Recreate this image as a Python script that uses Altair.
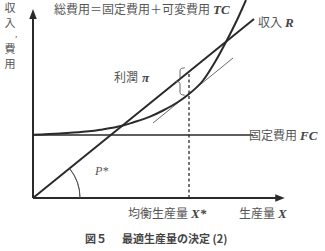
import altair as alt
import pandas as pd

# ---- data (diagram units: x = production, y = revenue / cost) ----
rev_x = [0, 221]
rev_y = [0, 179]
fc_x = [0, 220]
fc_y = [63, 63]
tc_x = [0, 27, 50, 70, 89, 100, 117, 130, 145, 156, 170, 182, 194, 204, 213]
tc_y = [63.3, 64.5, 66.2, 68.6, 72.2, 75.5, 81.3, 87.5, 96, 104, 117.5, 136, 158, 178, 198]
tan_x = [120, 200]
tan_y = [75, 140]
x_star = 156
x_star_rev = 126
brace_x = 147
brace_y = 116.5

ja_labels = ["総費用＝固定費用＋可変費用", "収入", "固定費用", "利潤", "均衡生産量", "生産量"]
ja_x = [177, 249, 264, 105, 155, 242]
ja_y = [188, 175, 62, 120, -16, -16]

sym_labels = ["TC", "R", "FC", "π", "X*", "X"]
sym_x = [180, 252, 267, 109, 158, 245]
sym_y = [188, 175, 62, 120, -16, -16]

ylab_chars = ["収", "入", "費", "用"]
ylab_y = [189, 174, 148, 133]

cap_text = ["図５", "最適生産量の決定 (2)"]
cap_x = [52, 89]

XS = alt.Scale(domain=[-33, 292], nice=False, zero=False)
YS = alt.Scale(domain=[-53, 198], nice=False, zero=False)
ink = "#2a2a2a"


def enc(ch):
    return ch.encode(x=alt.X("x:Q", scale=XS, axis=None), y=alt.Y("y:Q", scale=YS, axis=None))


def seg(x0, y0, x1, y1, **kw):
    df = pd.DataFrame({"x": [x0], "y": [y0], "x2": [x1], "y2": [y1]})
    return alt.Chart(df).mark_rule(**kw).encode(
        x=alt.X("x:Q", scale=XS, axis=None), y=alt.Y("y:Q", scale=YS, axis=None),
        x2="x2:Q", y2="y2:Q")


layers = []
# axes
layers.append(seg(0, 0, 0, 181, color=ink, strokeWidth=2))
layers.append(seg(0, 0, 245, 0, color=ink, strokeWidth=2))
up = pd.DataFrame({"x": [0], "y": [184]})
layers.append(enc(alt.Chart(up).mark_point(shape="M 0 -1 L 0.75 1 L -0.75 1 Z", size=100,
                                           filled=True, color=ink, opacity=1)))
rt = pd.DataFrame({"x": [247], "y": [0]})
layers.append(enc(alt.Chart(rt).mark_point(shape="M 1 0 L -1 -0.8 L -1 0.8 Z", size=90,
                                           filled=True, color=ink, opacity=1)))
# fixed cost
layers.append(seg(fc_x[0], fc_y[0], fc_x[1], fc_y[1], color=ink, strokeWidth=1.6))
# revenue
layers.append(seg(rev_x[0], rev_y[0], rev_x[1], rev_y[1], color=ink, strokeWidth=2))
# tangent
layers.append(seg(tan_x[0], tan_y[0], tan_x[1], tan_y[1], color="#444", strokeWidth=0.8))
# dashed x*
layers.append(seg(x_star, 0, x_star, x_star_rev, color=ink, strokeWidth=1.3, strokeDash=[3, 2.5]))
# total cost curve
tc = pd.DataFrame({"x": tc_x, "y": tc_y})
layers.append(enc(alt.Chart(tc).mark_line(color=ink, strokeWidth=2, interpolate="monotone", clip=True)))
# angle arc
org = pd.DataFrame({"x": [0], "y": [0]})
layers.append(enc(alt.Chart(org).mark_arc(radius=47, radius2=47, theta=0.89, theta2=1.5708,
                                          filled=False, stroke="#444", strokeWidth=0.8)))
# brace
br = pd.DataFrame({"x": [brace_x], "y": [brace_y]})
layers.append(enc(alt.Chart(br).mark_point(
    shape="M 0.35 -1 Q 0 -1 0 -0.8 L 0 -0.15 Q 0 0 -0.3 0 Q 0 0 0 0.15 L 0 0.8 Q 0 1 0.35 1",
    size=740, filled=False, color="#555", strokeWidth=0.9, opacity=1)))
# japanese labels
ja = pd.DataFrame({"x": ja_x, "y": ja_y, "t": ja_labels})
layers.append(enc(alt.Chart(ja).mark_text(align="right", baseline="middle", font="Noto Sans CJK JP",
                                          fontSize=12, color="#555")).encode(text="t:N"))
sy = pd.DataFrame({"x": sym_x, "y": sym_y, "t": sym_labels})
layers.append(enc(alt.Chart(sy).mark_text(align="left", baseline="middle", font="Liberation Serif",
                                          fontSize=13, fontStyle="italic", fontWeight="bold",
                                          color="#444")).encode(text="t:N"))
pst = pd.DataFrame({"x": [62], "y": [27], "t": ["P*"]})
layers.append(enc(alt.Chart(pst).mark_text(align="left", baseline="middle", font="Liberation Serif",
                                           fontSize=12, fontStyle="italic", color="#555")).encode(text="t:N"))
yl = pd.DataFrame({"x": [-23] * len(ylab_chars), "y": ylab_y, "t": ylab_chars})
layers.append(enc(alt.Chart(yl).mark_text(align="center", baseline="middle", font="Noto Sans CJK JP",
                                          fontSize=11, color="#555")).encode(text="t:N"))
cm = pd.DataFrame({"x": [-17], "y": [163], "t": [","]})
layers.append(enc(alt.Chart(cm).mark_text(align="center", baseline="middle", font="Noto Sans CJK JP",
                                          fontSize=8, color="#555")).encode(text="t:N"))
cap = pd.DataFrame({"x": cap_x, "y": [-42, -42], "t": cap_text})
layers.append(enc(alt.Chart(cap).mark_text(align="left", baseline="middle", font="Noto Sans CJK JP",
                                           fontSize=11, fontWeight="bold", color="#444")).encode(text="t:N"))

chart = alt.layer(*layers).properties(
    width=325, height=251, padding=0, autosize="none", background="white"
).configure_view(stroke=None)

chart.save("out.html", embed_options={"renderer": "svg", "actions": False})
